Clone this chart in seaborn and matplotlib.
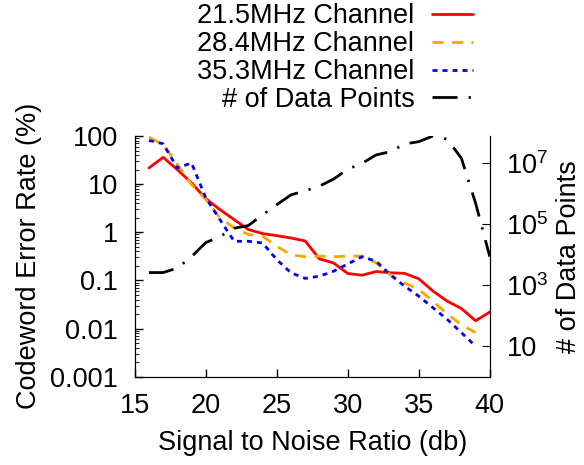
import pandas as pd
import numpy as np
import matplotlib
matplotlib.use('Agg')
import matplotlib.pyplot as plt
import seaborn as sns
from matplotlib.ticker import FixedLocator, FuncFormatter, LogLocator, NullLocator, NullFormatter

# SNR (db) for each measurement
snr = list(range(16, 41))
# codeword error rate (%) per channel
err_21_5 = [21.7, 36, 20, 10.6, 5.0, 2.96, 1.83, 1.14, 0.94, 0.85, 0.76, 0.66, 0.28,
            0.23, 0.139, 0.128, 0.153, 0.144, 0.14, 0.108, 0.060, 0.037, 0.026, 0.0145, 0.022]
err_28_4 = [95, 66, 26, 9.8, 4.8, 2.0, 1.23, 0.9, 0.83, 0.51, 0.34, 0.31, 0.32,
            0.31, 0.32, 0.32, 0.23, 0.13, 0.089, 0.065, 0.037, 0.020, 0.012, 0.0082]
err_35_3 = [81, 69, 21.7, 27.5, 5.2, 1.83, 0.65, 0.65, 0.6, 0.27, 0.144, 0.11, 0.122,
            0.155, 0.22, 0.31, 0.25, 0.13, 0.076, 0.047, 0.027, 0.0155, 0.0082, 0.0043]
# number of data points per SNR bin
data_points = [2500, 2500, 3500, 8300, 24000, 38000, 71000, 87000, 1.95e5, 4.2e5, 8.8e5,
               1.2e6, 1.7e6, 2.9e6, 6.1e6, 9.5e6, 1.8e7, 2.3e7, 4.1e7, 4.9e7, 7.5e7,
               5.9e7, 1.4e7, 4.7e5, 8.3e3]
err_ticks = [0.001, 0.01, 0.1, 1, 10, 100]
count_ticks = [10, 1e3, 1e5, 1e7]

channels = ['21.5MHz Channel', '28.4MHz Channel', '35.3MHz Channel']
colors = {'21.5MHz Channel': 'red', '28.4MHz Channel': 'orange', '35.3MHz Channel': 'blue'}
dash_styles = {'21.5MHz Channel': '', '28.4MHz Channel': (4, 3), '35.3MHz Channel': (1.8, 1.8)}

err_df = pd.concat([
    pd.DataFrame({'snr': snr[:len(vals)], 'err': vals, 'channel': name})
    for name, vals in zip(channels, [err_21_5, err_28_4, err_35_3])
])
pts_df = pd.DataFrame({'snr': snr, 'points': data_points})

sns.set_style('ticks')
plt.rcParams['font.family'] = ['Liberation Sans', 'DejaVu Sans']
plt.rcParams['mathtext.fontset'] = 'custom'
plt.rcParams['mathtext.rm'] = 'Liberation Sans'
for key in ['text.color', 'axes.labelcolor', 'xtick.color', 'ytick.color', 'axes.edgecolor']:
    plt.rcParams[key] = 'black'
fs = 19.5

fig = plt.figure(figsize=(5.84, 4.65), dpi=100)
ax = fig.add_axes([0.2307, 0.19, 0.608, 0.5175])

sns.lineplot(data=err_df, x='snr', y='err', hue='channel', style='channel',
             palette=colors, dashes=dash_styles, lw=2, ax=ax, legend=False)
ax.set_yscale('log')
ax.set_ylim(0.001, 100)
ax.set_xlim(15, 40)
ax.set_xticks([15, 20, 25, 30, 35, 40])
ax.yaxis.set_major_locator(FixedLocator(err_ticks))
ax.yaxis.set_minor_locator(LogLocator(base=10, subs=np.arange(2, 10), numticks=20))
ax.yaxis.set_minor_formatter(NullFormatter())
ax.yaxis.set_major_formatter(FuncFormatter(lambda v, p: '%g' % v))
ax.set_xlabel('Signal to Noise Ratio (db)', fontsize=fs, labelpad=8)
ax.set_ylabel('Codeword Error Rate (%)', fontsize=fs, labelpad=6)
ax.tick_params(direction='in', labelsize=fs, width=1, length=6, pad=12)
ax.tick_params(which='minor', direction='in', length=3)
ax.spines['top'].set_visible(False)

ax2 = ax.twinx()
sns.lineplot(data=pts_df, x='snr', y='points', color='black', lw=2, ax=ax2)
ax2.lines[-1].set_dashes((9, 4, 0.8, 4))
ax2.set_yscale('log')
ax2.set_ylim(10 ** -0.015, 10 ** 7.875)
ax2.yaxis.set_major_locator(FixedLocator(count_ticks))
ax2.yaxis.set_minor_locator(NullLocator())
ax2.yaxis.set_major_formatter(FuncFormatter(
    lambda v, p: '10' if v == 10 else r'$10^{%d}$' % round(np.log10(v))))
ax2.set_ylabel('# of Data Points', fontsize=fs, labelpad=5)
ax2.tick_params(direction='in', labelsize=fs, length=6, pad=12)
ax2.spines['top'].set_visible(False)

handles = list(ax.lines[:3]) + [ax2.lines[-1]]
labels = channels + ['# of Data Points']
fig.legend(handles, labels, loc='upper right', bbox_to_anchor=(0.81, 0.993),
           frameon=False, markerfirst=False, handlelength=1.5,
           handletextpad=0.67, labelspacing=0.07, borderpad=0, borderaxespad=0,
           fontsize=fs)

fig.savefig('out.png', dpi=100)
